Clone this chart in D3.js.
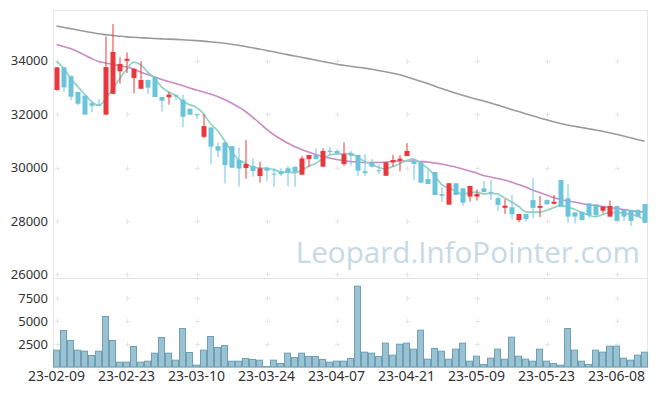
<!DOCTYPE html>
<html><head><meta charset="utf-8">
<script src="https://cdn.jsdelivr.net/npm/d3@7"></script>
<style>body{margin:0;background:#fff}svg{display:block}</style>
</head><body>
<svg id="c" width="657" height="396"></svg>
<script>
const dates = ["23-02-09","23-02-10","23-02-13","23-02-14","23-02-15","23-02-16","23-02-17","23-02-20","23-02-21","23-02-22",
"23-02-23","23-02-24","23-02-27","23-02-28","23-03-02","23-03-03","23-03-06","23-03-07","23-03-08","23-03-09",
"23-03-10","23-03-13","23-03-14","23-03-15","23-03-16","23-03-17","23-03-20","23-03-21","23-03-22","23-03-23",
"23-03-24","23-03-27","23-03-28","23-03-29","23-03-30","23-03-31","23-04-03","23-04-04","23-04-05","23-04-06",
"23-04-07","23-04-10","23-04-11","23-04-12","23-04-13","23-04-14","23-04-17","23-04-18","23-04-19","23-04-20",
"23-04-21","23-04-24","23-04-25","23-04-26","23-04-27","23-04-28","23-05-02","23-05-03","23-05-04","23-05-08",
"23-05-09","23-05-10","23-05-11","23-05-12","23-05-15","23-05-16","23-05-17","23-05-18","23-05-19","23-05-22",
"23-05-23","23-05-24","23-05-25","23-05-26","23-05-30","23-05-31","23-06-01","23-06-02","23-06-05","23-06-07",
"23-06-08","23-06-09","23-06-12","23-06-13","23-06-14"];

const open  = [32900,33750,33430,32830,32690,32410,32350,31980,32760,33600,34000,33350,32950,33280,33390,32640,32630,32700,32540,32200,
32000,31150,31500,30800,30940,30800,30280,29980,30060,29680,30000,29770,29840,29970,30030,29730,30320,30470,30030,30630,
30620,30130,30530,30470,29860,30160,29900,29690,30190,30250,30430,30250,30190,29570,29830,29000,28610,29410,29220,28910,
28910,29220,29090,28850,28490,28510,28030,28260,28780,28490,28780,28640,29530,28850,28320,28340,28660,28620,28380,28160,
28560,28410,28410,28410,28630];
const high  = [33760,33750,33430,32830,32690,32480,32560,34910,35370,34130,34310,33700,33980,33280,33390,32640,32830,32750,32730,32200,
32000,32000,31500,30950,30940,30800,30740,31030,30340,30220,30000,29970,29970,30060,30030,30430,30470,30720,30720,30780,
30680,30940,30630,30470,30500,30310,30120,30190,30470,30460,30910,30320,30190,29900,29830,29260,29410,29410,29220,29310,
29180,29500,29530,28930,28810,28970,28260,28260,29600,28930,28810,28970,29530,29380,28320,28340,28660,28620,28560,28760,
28560,28410,28410,28440,28630];
const low   = [32880,32830,32520,32330,31980,32070,32290,31980,32760,33140,33540,32780,32950,32760,32640,32100,32350,32520,31510,31980,
31820,31090,30130,30400,29410,29990,29280,29580,29660,29430,29500,29280,29680,29310,29280,29730,30030,30320,30030,30470,
30500,30060,30080,29690,29690,30000,29760,29690,30030,29860,30430,29530,29430,29380,28970,28720,28610,28970,28560,28720,
28760,29080,28780,28380,28260,28060,27950,27970,28100,28140,28620,28620,28530,27930,27910,28030,28100,28170,28280,28160,
28000,28000,27810,28160,27930];
const close = [33750,33000,32650,32390,31980,32310,32310,33760,34330,33880,34070,33700,33280,32990,32640,32500,32730,32660,31900,31980,
31980,31550,30780,30630,30090,29990,29960,30130,29870,29970,29880,29740,29750,29800,29840,30340,30470,30320,30620,30580,
30530,30500,30440,29880,29790,30030,29870,30190,30280,30330,30620,30130,29430,29380,28970,28940,29410,28970,28680,29310,
29010,29080,29050,28600,28570,28250,28260,28070,28490,28560,28620,28720,28530,28160,28160,28030,28220,28220,28530,28560,
28000,28160,28000,28160,27930];
const volume = [1884,4022,2935,1884,1775,1304,1775,5543,2935,580,580,2282,580,688,1558,3261,1558,797,4239,1630,
254,1884,3369,2174,2391,688,688,978,870,797,109,797,435,1558,1087,1558,1196,1196,870,580,
688,688,978,8840,1667,1558,1196,2645,1341,2536,2645,1993,4058,906,2065,1775,906,1993,2645,688,
1232,326,1014,1993,906,3297,1232,906,688,1993,688,435,254,4239,1884,688,326,1884,1667,2319,
2319,1014,797,1341,1667];
// 5-day MA: first four points (depend on earlier sessions)
const ma5Head = [33977,33726,33351,33041];
const ma20 = [34606,34531,34456,34344,34213,34082,33969,33913,33857,33820,33763,33688,33576,33483,33389,33295,33220,33145,33071,32977,
32902,32827,32752,32659,32546,32415,32265,32097,31891,31666,31441,31236,31067,30917,30786,30674,30580,30487,30412,30355,
30299,30262,30224,30206,30187,30187,30187,30206,30224,30243,30243,30243,30224,30206,30168,30131,30075,30018,29943,29869,
29794,29700,29644,29588,29532,29457,29363,29269,29157,29063,28970,28876,28801,28745,28708,28651,28595,28577,28539,28502,
28464,28427,28389,28352,28333];
const ma60 = [35299,35250,35201,35149,35100,35055,35007,34977,34947,34917,34891,34876,34861,34846,34831,34819,34808,34797,34782,34767,
34752,34733,34707,34681,34651,34617,34576,34531,34482,34437,34385,34333,34280,34228,34175,34127,34078,34025,33973,33921,
33868,33827,33790,33756,33722,33681,33632,33584,33531,33471,33396,33314,33228,33142,33052,32958,32872,32790,32707,32629,
32557,32490,32415,32340,32258,32176,32097,32014,31936,31857,31786,31715,31651,31591,31543,31498,31449,31404,31355,31303,
31243,31179,31112,31048,30985];
const priceTicks = [26000,28000,30000,32000,34000];
const volTicks = [2500,5000,7500];
const labelEvery = 10;

const ma5 = close.map((c,i)=> i<4 ? ma5Head[i] : d3.mean(close.slice(i-4,i+1)));

const svg = d3.select("#c");
const L = 53, R = 648, PT = 10, PB = 278, VB = 367;
const x = d3.scaleBand().domain(dates).range([L,R]).padding(0);
const cx = d => x(d) + x.bandwidth()/2;
const y = d3.scaleLinear().domain([26000,34000]).range([274.3,60.7]);
const yv = d3.scaleLinear().domain([0,7500]).range([VB,VB-69]);
const font = "'Noto Sans', sans-serif";
const grid = "#e6e6e6";

// panel frames
svg.append("rect").attr("x",L+0.5).attr("y",PT+0.5).attr("width",R-L-1).attr("height",VB-PT).attr("fill","none").attr("stroke","#e6e6e6");
svg.append("line").attr("x1",L).attr("x2",R).attr("y1",PB+0.5).attr("y2",PB+0.5).attr("stroke","#e2e2e2");

// watermark
svg.append("text").attr("x",640).attr("y",263).attr("text-anchor","end")
  .attr("font-family","'Open Sans', sans-serif").attr("font-size",29.6).attr("fill","#c6d9e5")
  .text("Leopard.InfoPointer.com");

// grid crosses
const xt = dates.filter((d,i)=>i%labelEvery===0);
function cross(px,py){
  svg.append("path").attr("d",`M${px-2.5},${py}H${px+2.5}M${px},${py-2.5}V${py+2.5}`).attr("stroke",grid).attr("stroke-width",1);
}
xt.forEach(d=>{ priceTicks.forEach(v=>cross(Math.round(cx(d))+0.5, Math.round(y(v))+0.5)); volTicks.forEach(v=>cross(Math.round(cx(d))+0.5, Math.round(yv(v))+0.5)); });

// clip for price panel
svg.append("clipPath").attr("id","pc").append("rect").attr("x",L).attr("y",PT).attr("width",R-L).attr("height",PB-PT);
const pg = svg.append("g").attr("clip-path","url(#pc)");

// MA lines
const lineOf = arr => d3.line().x((d,i)=>cx(dates[i])).y(d=>y(d)).curve(d3.curveMonotoneX)(arr);
pg.append("path").attr("d",lineOf(ma60)).attr("fill","none").attr("stroke","#9a9a9a").attr("stroke-width",1.6);
pg.append("path").attr("d",lineOf(ma20)).attr("fill","none").attr("stroke","#c98ac6").attr("stroke-width",1.6);
pg.append("path").attr("d",lineOf(ma5)).attr("fill","none").attr("stroke","#8fd2c2").attr("stroke-width",1.7);

// candles
const up = "#e8383d", down = "#6cc4da";
const cg = pg.append("g");
dates.forEach((d,i)=>{
  const col = close[i] >= open[i] ? up : down;
  const xc = Math.round(cx(d));
  cg.append("line").attr("x1",xc).attr("x2",xc).attr("y1",y(high[i])).attr("y2",y(low[i])).attr("stroke",col).attr("stroke-width",1);
  const top = y(Math.max(open[i],close[i])), bot = y(Math.min(open[i],close[i]));
  cg.append("rect").attr("x",xc-2.5).attr("y",top).attr("width",5).attr("height",Math.max(1,bot-top)).attr("fill",col);
});

// volume bars
svg.append("g").selectAll("rect").data(volume).join("rect")
  .attr("x",(v,i)=>x(dates[i])+0.5).attr("y",v=>yv(v)+0.5)
  .attr("width",x.bandwidth()-1).attr("height",v=>VB-yv(v)-0.5)
  .attr("fill","#9ac2d2").attr("stroke","#6d9fb5").attr("stroke-width",1);

// axes labels
const ya = svg.append("g").attr("transform",`translate(${L},0)`)
  .call(d3.axisLeft(y).tickValues(priceTicks).tickSize(0).tickPadding(5).tickFormat(d3.format("d")));
const yva = svg.append("g").attr("transform",`translate(${L},0)`)
  .call(d3.axisLeft(yv).tickValues(volTicks).tickSize(0).tickPadding(5).tickFormat(d3.format("d")));
const xa = svg.append("g").attr("transform",`translate(0,${VB})`)
  .call(d3.axisBottom(x).tickValues(xt).tickSize(0).tickPadding(4));
[ya,yva,xa].forEach(g=>{ g.select(".domain").remove(); g.selectAll("text").attr("font-family",font).attr("font-size",13).attr("fill","#333"); });
xa.selectAll("text").attr("font-size",14);
</script>
</body></html>
